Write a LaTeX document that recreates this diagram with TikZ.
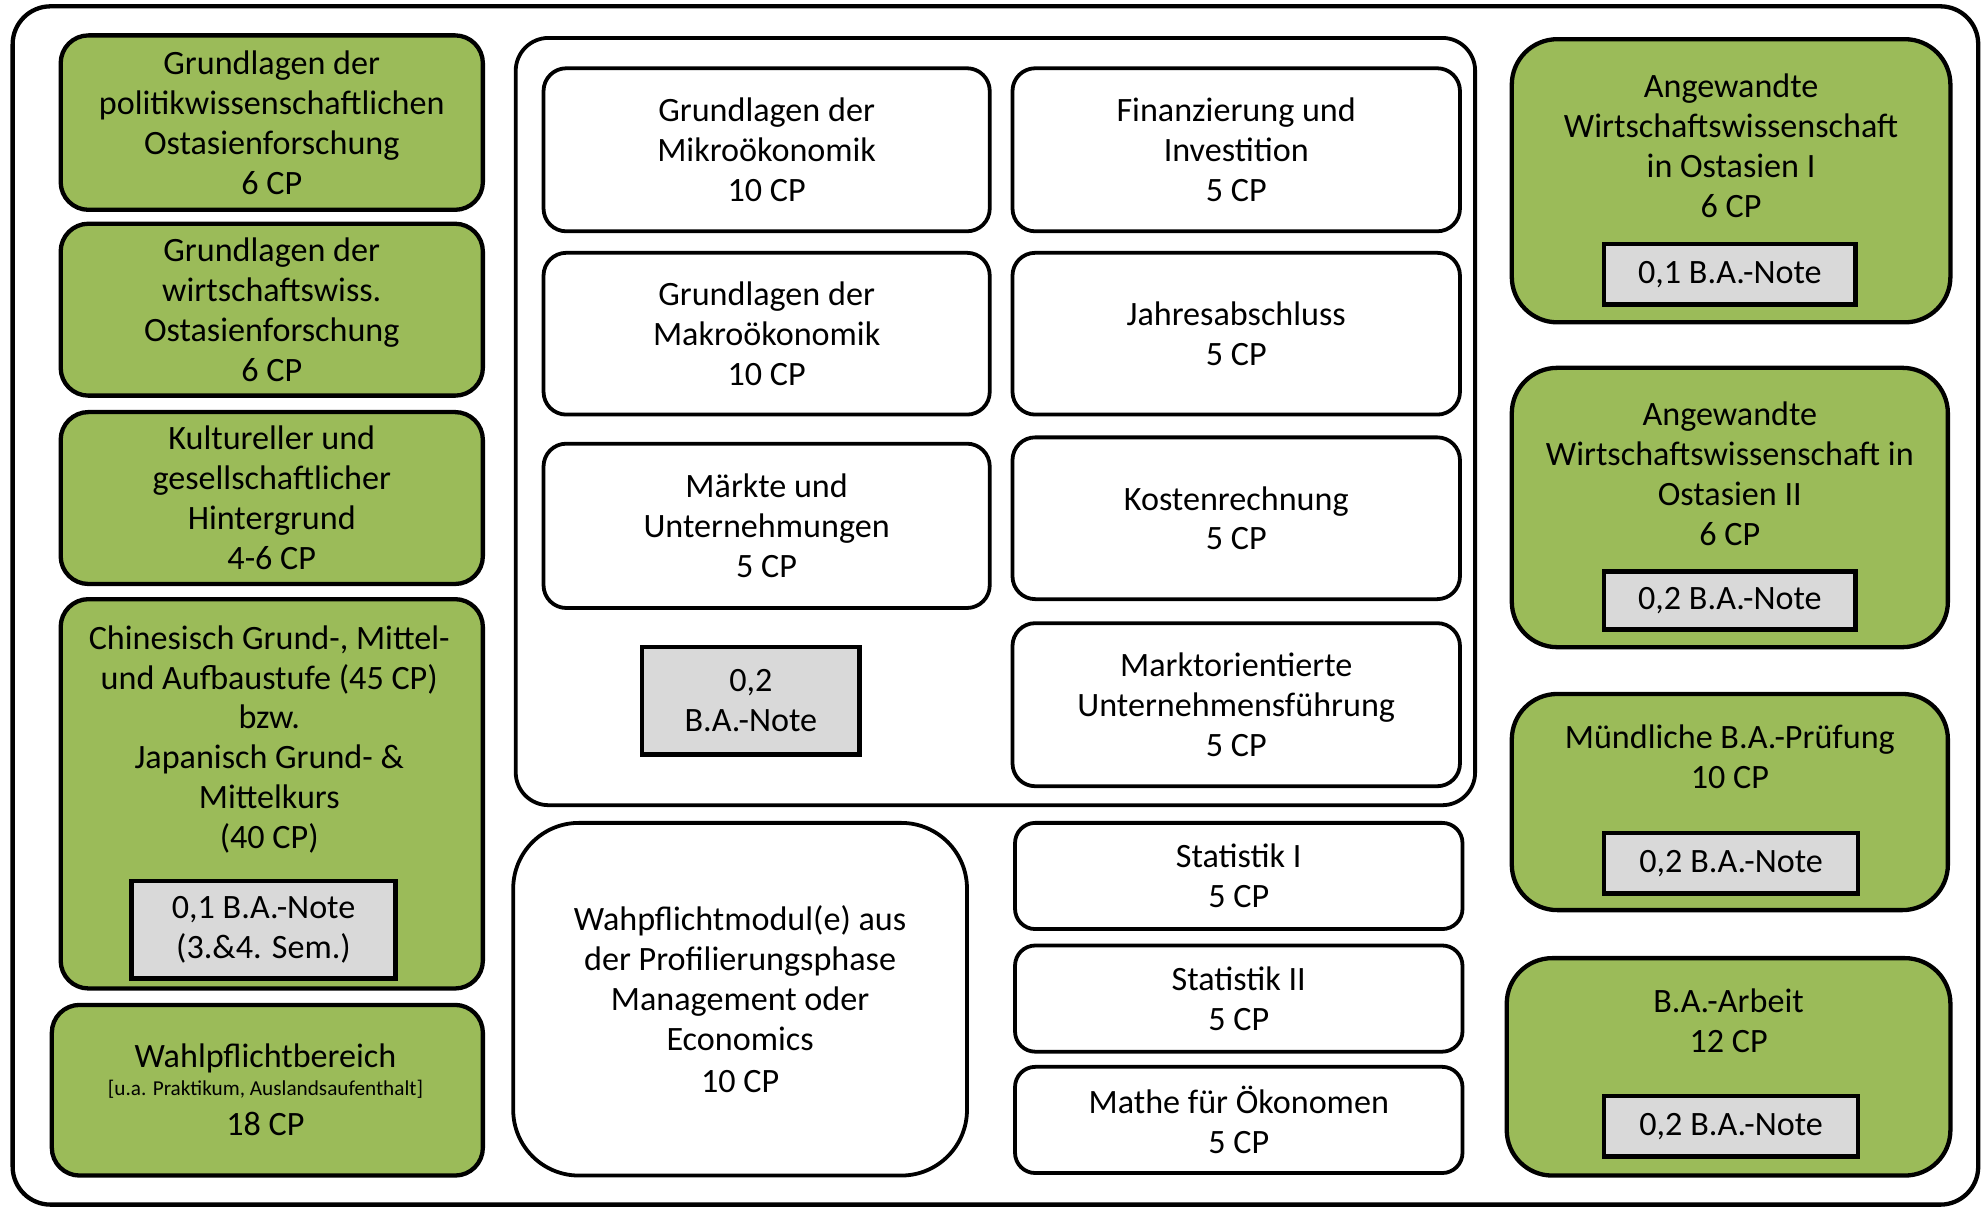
\documentclass[tikz,border=0pt]{standalone}
\usepackage{fontspec}
\setmainfont{Carlito}
\definecolor{grn}{HTML}{9BBB59}
\definecolor{gry}{HTML}{D9D9D9}
\begin{document}
\begin{tikzpicture}[x=0.5pt,y=-0.5pt,
  every node/.style={font=\fontsize{13.5}{15.8}\selectfont, align=center, inner sep=0pt},
  gbox/.style={draw=black, line width=1.7pt, fill=grn, rounded corners=11pt},
  rbox/.style={draw=black, line width=1.7pt, fill=grn, rounded corners=18pt},
  wbox/.style={draw=black, line width=1.5pt, fill=white, rounded corners=9pt},
  sbox/.style={draw=black, line width=1.5pt, fill=white, rounded corners=8pt},
  note/.style={draw=black, line width=1.8pt, fill=gry},
  small/.style={font=\fontsize{8.4}{10}\selectfont}]
\useasboundingbox (0,0) rectangle (1568,957.3);
% outer frame
\node[draw=black, line width=1.7pt, rounded corners=15pt, minimum width=777.5pt, minimum height=474pt] (frame) at (787.5,479) {};
% left column
\node[gbox, minimum width=167pt, minimum height=69pt] (g1) at (215,97) {Grundlagen der\\politikwissenschaftlichen\\Ostasienforschung\\6 CP};
\node[gbox, minimum width=167pt, minimum height=68pt] (g2) at (215,245) {Grundlagen der\\wirtschaftswiss.\\Ostasienforschung\\6 CP};
\node[gbox, minimum width=167pt, minimum height=68pt] (g3) at (215,394) {Kultureller und\\gesellschaftlicher\\Hintergrund\\4-6 CP};
\node[gbox, minimum width=167pt, minimum height=154pt] (g4) at (215,628) {};
\node (g4t) at (213,585) {Chinesisch Grund-, Mittel-\\und Aufbaustufe (45 CP)\\bzw.\\Japanisch Grund- \&\\Mittelkurs\\(40 CP)};
\node[note, minimum width=104.5pt, minimum height=38.5pt] (g4n) at (208.5,735.5) {0,1 B.A.-Note\\(3.\&4. Sem.)};
\node[gbox, minimum width=170.5pt, minimum height=67.5pt] (g5) at (211.5,862.5) {};
\node (g5a) at (210,837) {Wahlpflichtbereich};
\node[small] (g5b) at (210,862) {[u.a. Praktikum, Auslandsaufenthalt]};
\node (g5c) at (210,889) {18 CP};
% middle container
\node[draw=black, line width=1.5pt, rounded corners=13pt, minimum width=379.5pt, minimum height=303.5pt] (mid) at (787.5,333.5) {};
\node[wbox, minimum width=176.5pt, minimum height=64.5pt] (w1) at (606.5,118.5) {Grundlagen der\\Mikroökonomik\\10 CP};
\node[wbox, minimum width=176.5pt, minimum height=64pt] (w2) at (606.5,264) {Grundlagen der\\Makroökonomik\\10 CP};
\node[wbox, minimum width=176.5pt, minimum height=65pt] (w3) at (606.5,416) {Märkte und\\Unternehmungen\\5 CP};
\node[note, minimum width=86pt, minimum height=42.5pt] (wn) at (594,554.5) {0,2\\B.A.-Note};
\node[wbox, minimum width=177pt, minimum height=64.5pt] (r1) at (978,118.5) {Finanzierung und\\Investition\\5 CP};
\node[wbox, minimum width=177pt, minimum height=64pt] (r2) at (978,264) {Jahresabschluss\\5 CP};
\node[wbox, minimum width=177pt, minimum height=64pt] (r3) at (978,410) {Kostenrechnung\\5 CP};
\node[wbox, minimum width=177pt, minimum height=64.5pt] (r4) at (978,557.5) {Marktorientierte\\Unternehmensführung\\5 CP};
% lower middle
\node[draw=black, line width=1.5pt, fill=white, rounded corners=26pt, minimum width=179.5pt, minimum height=139.5pt] (wp) at (585.5,790.5) {Wahpflichtmodul(e) aus\\der Profilierungsphase\\Management oder\\Economics\\[1pt]10 CP};
\node[sbox, minimum width=177pt, minimum height=42pt] (s1) at (980,693) {Statistik I\\5 CP};
\node[sbox, minimum width=177pt, minimum height=42pt] (s2) at (980,790) {Statistik II\\5 CP};
\node[sbox, minimum width=177pt, minimum height=42pt] (s3) at (980,886) {Mathe für Ökonomen\\5 CP};
% right column
\node[rbox, minimum width=173.5pt, minimum height=112pt] (a1) at (1369.5,143) {};
\node (a1t) at (1369.5,115.5) {Angewandte\\Wirtschaftswissenschaft\\in Ostasien I\\6 CP};
\node[note, minimum width=99.5pt, minimum height=24pt] (a1n) at (1368.5,217) {0,1 B.A.-Note};
\node[rbox, minimum width=172.5pt, minimum height=110.5pt] (a2) at (1368.5,401.5) {};
\node (a2t) at (1368.5,374.5) {Angewandte\\Wirtschaftswissenschaft in\\Ostasien II\\6 CP};
\node[note, minimum width=99.5pt, minimum height=23pt] (a2n) at (1368.5,475) {0,2 B.A.-Note};
\node[rbox, minimum width=172.5pt, minimum height=85.5pt] (a3) at (1368.5,634.5) {};
\node (a3t) at (1368.5,598.5) {Mündliche B.A.-Prüfung\\10 CP};
\node[note, minimum width=100.5pt, minimum height=24pt] (a3n) at (1369.5,683) {0,2 B.A.-Note};
\node[rbox, minimum width=175.5pt, minimum height=86pt] (a4) at (1367.5,844) {};
\node (a4t) at (1367.5,807.5) {B.A.-Arbeit\\12 CP};
\node[note, minimum width=100.5pt, minimum height=24pt] (a4n) at (1369.5,891) {0,2 B.A.-Note};
\end{tikzpicture}
\end{document}
